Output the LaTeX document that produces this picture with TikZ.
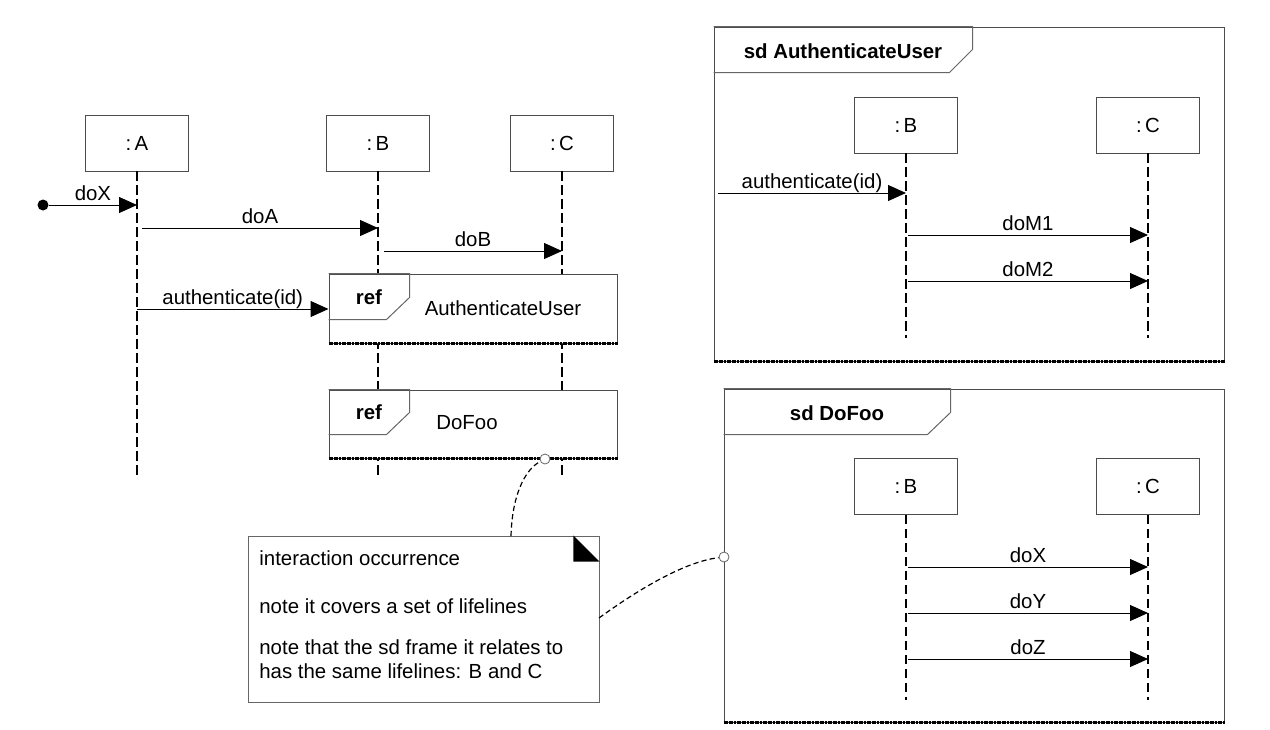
\documentclass[tikz,border=0pt]{standalone}
\usepackage{fontspec}
\setmainfont{Liberation Sans}
\usetikzlibrary{arrows.meta,positioning}
\tikzset{
  lifebox/.style={rectangle, draw=black!70, fill=white, minimum width=51.5pt, minimum height=28pt, inner sep=0pt},
  lifeline/.style={line width=0.85pt, dash pattern=on 4.6pt off 2.4pt},
  msg/.style={line width=0.5pt, draw=black, -{Triangle[length=9pt,width=8pt]}},
  lbl/.style={inner sep=0pt, anchor=base, yshift=2.1pt},
  sdframe/.style={rectangle, draw=black!70, fill=white, inner sep=0pt, line width=0.5pt},
  tag/.style={draw=black!60, line width=0.5pt},
  tagtext/.style={inner sep=0pt, font=\fontsize{10.2}{12.2}\selectfont\bfseries},
  framebase/.style={line width=1.1pt, dash pattern=on 1pt off 0.3pt},
  pin/.style={circle, draw=black!60, fill=white, minimum size=5pt, inner sep=0pt},
  notelink/.style={line width=0.6pt, dash pattern=on 2.6pt off 1.6pt},
  notetext/.style={inner sep=0pt, anchor=base west}
}

\begin{document}
\begin{tikzpicture}[x=0.5pt, y=-0.5pt, font=\fontsize{10.2}{12.2}\selectfont]
    \useasboundingbox (0,0) rectangle (1270,729);

    % main interaction: lifelines
    \node [lifebox] (boxA) at (137,143) {:\,A};
    \node [lifebox] (boxB) at (378,143) {:\,B};
    \node [lifebox] (boxC) at (562,143) {:\,C};
    \coordinate (endA) at (137,475);
    \coordinate (endB) at (378,475);
    \coordinate (endC) at (562,475);
    \draw[lifeline] (boxA.south) -- (endA);
    \draw[lifeline] (boxB.south) -- (endB);
    \draw[lifeline] (boxC.south) -- (endC);

    % interaction occurrences
    \node [sdframe, minimum width=144pt, minimum height=34.5pt] (refAuth) at (473,308.5) {};
    \draw[tag] (refAuth.north west) -- ++(81,0) -- ++(0,24) -- ++(-23,22) -- ++(-58,0);
    \draw[framebase] (refAuth.south west) -- (refAuth.south east);
    \node [tagtext] (refAuthTag) at (369,297) {ref};
    \node [inner sep=0pt] (refAuthName) at (503,308) {AuthenticateUser};

    \node [sdframe, minimum width=144pt, minimum height=34pt] (refFoo) at (473,424) {};
    \draw[tag] (refFoo.north west) -- ++(81,0) -- ++(0,23) -- ++(-23,22) -- ++(-58,0);
    \draw[framebase] (refFoo.south west) -- (refFoo.south east);
    \node [tagtext] (refFooTag) at (369,412) {ref};
    \node [inner sep=0pt] (refFooName) at (467,423) {DoFoo};

    % messages
    \node [circle, fill=black, minimum size=5.5pt, inner sep=0pt] (init) at (43,205) {};
    \coordinate (xA) at (137,205);
    \draw[msg] (init) -- (xA) node[midway, lbl] {doX};
    \coordinate (aA) at (142,228);
    \coordinate (aB) at (378,228);
    \draw[msg] (aA) -- (aB) node[midway, lbl] {doA};
    \coordinate (bB) at (384,251);
    \coordinate (bC) at (562,251);
    \draw[msg] (bB) -- (bC) node[midway, lbl] {doB};
    \coordinate (authA) at (137,309);
    \draw[msg] (authA) -- (refAuth.west |- authA) node[midway, lbl] {authenticate(id)};

    % sd AuthenticateUser
    \node [sdframe, minimum width=255pt, minimum height=167pt] (sdAuth) at (969,194) {};
    \draw[tag] (sdAuth.north west) -- ++(259,0) -- ++(0,23) -- ++(-23,23) -- ++(-236,0);
    \draw[framebase] (sdAuth.south west) -- (sdAuth.south east);
    \node [tagtext] (sdAuthTitle) at (843,51) {sd AuthenticateUser};
    \node [lifebox] (authB) at (906,125) {:\,B};
    \node [lifebox] (authC) at (1148,125) {:\,C};
    \coordinate (authEndB) at (906,338);
    \coordinate (authEndC) at (1148,338);
    \draw[lifeline] (authB.south) -- (authEndB);
    \draw[lifeline] (authC.south) -- (authEndC);
    \coordinate (gateAuth) at (718,193);
    \coordinate (gateB) at (906,193);
    \draw[msg] (gateAuth) -- (gateB) node[midway, lbl] {authenticate(id)};
    \coordinate (m1B) at (908,235);
    \coordinate (m1C) at (1148,235);
    \draw[msg] (m1B) -- (m1C) node[midway, lbl] {doM1};
    \coordinate (m2B) at (908,281);
    \coordinate (m2C) at (1148,281);
    \draw[msg] (m2B) -- (m2C) node[midway, lbl] {doM2};

    % sd DoFoo
    \node [sdframe, minimum width=250pt, minimum height=166.5pt] (sdFoo) at (974,555.5) {};
    \draw[tag] (sdFoo.north west) -- ++(227,0) -- ++(0,24) -- ++(-23,22) -- ++(-204,0);
    \draw[framebase] (sdFoo.south west) -- (sdFoo.south east);
    \node [tagtext] (sdFooTitle) at (837,413) {sd DoFoo};
    \node [lifebox] (fooB) at (906,486.5) {:\,B};
    \node [lifebox] (fooC) at (1148,486.5) {:\,C};
    \coordinate (fooEndB) at (906,700);
    \coordinate (fooEndC) at (1148,700);
    \draw[lifeline] (fooB.south) -- (fooEndB);
    \draw[lifeline] (fooC.south) -- (fooEndC);
    \coordinate (xB) at (908,567);
    \coordinate (xC) at (1148,567);
    \draw[msg] (xB) -- (xC) node[midway, lbl] {doX};
    \coordinate (yB) at (908,613);
    \coordinate (yC) at (1148,613);
    \draw[msg] (yB) -- (yC) node[midway, lbl] {doY};
    \coordinate (zB) at (908,659);
    \coordinate (zC) at (1148,659);
    \draw[msg] (zB) -- (zC) node[midway, lbl] {doZ};

    % note
    \node [draw=black!60, fill=white, minimum width=175.5pt, minimum height=83pt, inner sep=0pt] (note) at (423.5,619) {};
    \fill ([xshift=-13pt]note.north east) -- ([yshift=-13pt]note.north east) -- ++(-13pt,0) -- cycle;
    \node [notetext] (noteL1) at (259,565) {interaction occurrence};
    \node [notetext] (noteL2) at (259,613) {note it covers a set of lifelines};
    \node [notetext] (noteL3) at (259,654) {note that the sd frame it relates to};
    \node [notetext] (noteL4) at (259,678) {has the same lifelines: B and C};

    \node [pin] (pinRef) at (545,459) {};
    \node [pin] (pinFoo) at (724,557) {};
    \coordinate (noteTop) at (511,536);
    \coordinate (noteRight) at (599,618);
    \draw[notelink] (noteTop) .. controls (512,497) and (524,470) .. (pinRef);
    \draw[notelink] (noteRight) .. controls (632,594) and (682,562) .. (pinFoo);
\end{tikzpicture}
\end{document}
